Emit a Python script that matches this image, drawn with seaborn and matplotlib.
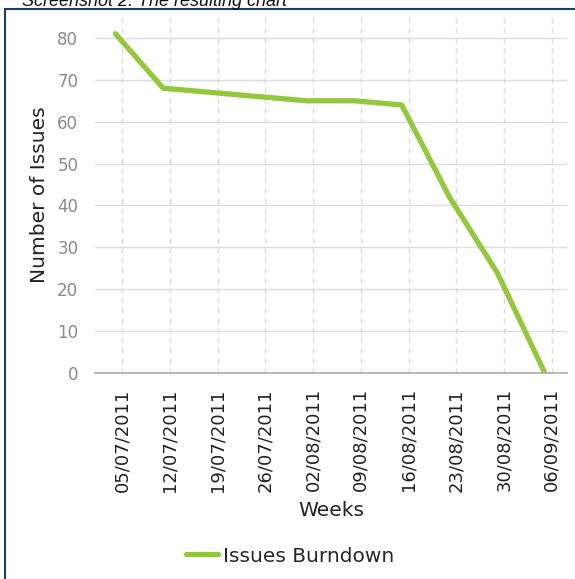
import matplotlib
matplotlib.use("Agg")
import matplotlib.pyplot as plt
import matplotlib.patches as patches
import seaborn as sns
import pandas as pd

#data: weekly issue counts (recorded the day before each week label)
record_dates = ["2011-07-04", "2011-07-11", "2011-07-18", "2011-07-25", "2011-08-01",
                "2011-08-08", "2011-08-15", "2011-08-22", "2011-08-29", "2011-09-05"]
issues = [81, 68, 67, 66, 65, 65, 64, 42, 24, 0]
week_ticks = ["2011-07-05", "2011-07-12", "2011-07-19", "2011-07-26", "2011-08-02",
              "2011-08-09", "2011-08-16", "2011-08-23", "2011-08-30", "2011-09-06"]
week_labels = ["05/07/2011", "12/07/2011", "19/07/2011", "26/07/2011", "02/08/2011",
               "09/08/2011", "16/08/2011", "23/08/2011", "30/08/2011", "06/09/2011"]
y_ticks = [0, 10, 20, 30, 40, 50, 60, 70, 80]

df = pd.DataFrame({"Date": pd.to_datetime(record_dates), "Issues": issues})

sns.set_style("white")
plt.rcParams["font.family"] = ["DejaVu Sans"]

W, H = 575, 579
fig = plt.figure(figsize=(W / 100, H / 100), dpi=100)
ax = fig.add_axes([95 / W, 1 - 373 / H, (567 - 95) / W, (373 - 17) / H])

sns.lineplot(data=df, x="Date", y="Issues", ax=ax, color="#94c83c", linewidth=3.8,
             label="Issues Burndown", legend=False)

#axes limits
ax.set_xlim(pd.Timestamp("2011-07-01"), pd.Timestamp("2011-09-08 06:00"))
ax.set_ylim(0, 85)

#ticks
ax.set_xticks(pd.to_datetime(week_ticks))
ax.set_xticklabels(week_labels, rotation=90, fontsize=13, color="#222222")
ax.set_yticks(y_ticks)
ax.set_yticklabels([str(v) for v in y_ticks], fontsize=12, color="#8a8a8a")
ax.tick_params(axis="x", length=6, width=1, color="#aaaaaa", pad=5)
ax.tick_params(axis="y", length=0, pad=12)

#grid
ax.grid(False)
for v in y_ticks[1:]:
    ax.axhline(v, color="#dddddd", linewidth=1, zorder=0)
for t in pd.to_datetime(week_ticks):
    ax.axvline(t, color="#d6d6d6", linewidth=0.9, linestyle=(0, (4, 4)), zorder=0)

#spines
for s in ["top", "right", "left"]:
    ax.spines[s].set_visible(False)
ax.spines["bottom"].set_color("#aaaaaa")
ax.spines["bottom"].set_linewidth(1.2)

#labels
ax.set_xlabel("Weeks", fontsize=14.5, color="#222222")
ax.xaxis.set_label_coords(0.5, (373 - 511) / 356)
ax.xaxis.label.set_va("center")
ax.set_ylabel("Number of Issues", fontsize=14.5, color="#222222")
ax.yaxis.set_label_coords((40 - 95) / 472, 0.5)
ax.yaxis.label.set_va("center")

#legend
handles, labels = ax.get_legend_handles_labels()
fig.legend(handles, labels, loc="center", bbox_to_anchor=(290 / W, 1 - 556 / H),
           frameon=False, fontsize=14.5, handlelength=1.6, handletextpad=0.25)

#frame and caption
fig.patches.append(patches.Rectangle((5 / W, -0.02), 1.0, 1.02 - 9 / H, transform=fig.transFigure,
                                     fill=False, edgecolor="#1f3a6e", linewidth=1.5))
fig.text(22 / W, 1 - 6 / H, "Screenshot 2: The resulting chart", fontsize=13,
         style="italic", family="Liberation Sans", color="#111111", va="baseline")

fig.savefig("out.png", dpi=100)
